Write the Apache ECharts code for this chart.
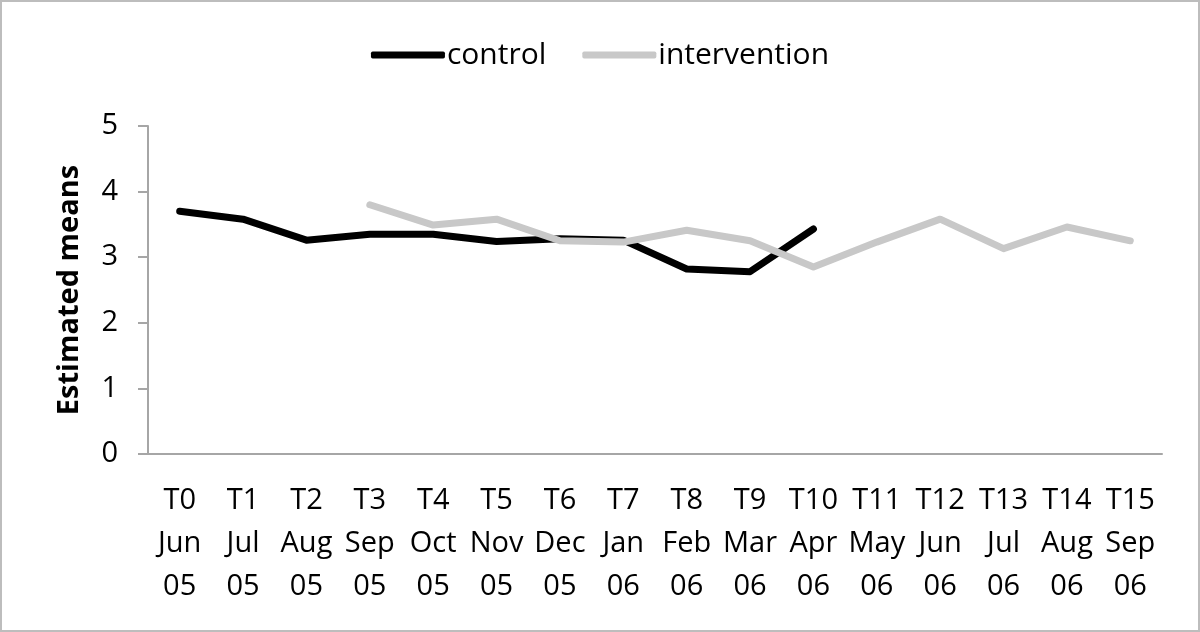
<!DOCTYPE html>
<html>
<head>
<meta charset="utf-8">
<script src="https://cdn.jsdelivr.net/npm/echarts@6/dist/echarts.min.js"></script>
<style>
html,body{margin:0;padding:0;background:#fff;}
#c{width:1200px;height:632px;box-sizing:border-box;border:2px solid #bdbdbd;}
</style>
</head>
<body>
<div id="c"></div>
<script>
const tLabels = ['T0','T1','T2','T3','T4','T5','T6','T7','T8','T9','T10','T11','T12','T13','T14','T15'];
const months = ['Jun','Jul','Aug','Sep','Oct','Nov','Dec','Jan','Feb','Mar','Apr','May','Jun','Jul','Aug','Sep'];
const years = ['05','05','05','05','05','05','05','06','06','06','06','06','06','06','06','06'];
const control = [3.70,3.58,3.26,3.35,3.35,3.24,3.28,3.26,2.82,2.78,3.43,null,null,null,null,null];
const intervention = [null,null,null,3.80,3.49,3.58,3.25,3.23,3.41,3.25,2.85,3.23,3.58,3.13,3.46,3.25];
const yTicks = [0,1,2,3,4,5];

const categories = tLabels.map((t,i)=>t+'\n'+months[i]+'\n'+years[i]);
const FONT = '"Open Sans", Lato, sans-serif';
const chart = echarts.init(document.getElementById('c'));
chart.setOption({
  animation:false,
  textStyle:{fontFamily:FONT},
  legend:{
    top:33, left:'center',
    itemWidth:74, itemHeight:7, itemGap:36,
    icon:'roundRect',
    textStyle:{fontSize:30, color:'#000', fontFamily:FONT, padding:[0,0,0,-3]},
    data:['control','intervention']
  },
  grid:{left:146, right:36, top:124, bottom:176, containLabel:false},
  xAxis:{
    type:'category', data:categories, boundaryGap:true,
    axisLine:{lineStyle:{color:'#a6a6a6', width:2}},
    axisTick:{show:false},
    axisLabel:{color:'#000', fontSize:29, lineHeight:43, margin:25, interval:0, fontFamily:FONT}
  },
  yAxis:{
    type:'value', min:yTicks[0], max:yTicks[yTicks.length-1], interval:1,
    name:'Estimated means', nameLocation:'middle', nameGap:64, nameRotate:90,
    nameTextStyle:{fontSize:29, fontWeight:'bold', color:'#000', fontFamily:FONT},
    axisLine:{show:true, lineStyle:{color:'#a6a6a6', width:2}},
    axisTick:{show:true, inside:false, length:10, lineStyle:{color:'#a6a6a6', width:2}},
    axisLabel:{color:'#000', fontSize:29, margin:30, fontFamily:FONT},
    splitLine:{show:false}
  },
  series:[
    {name:'control', type:'line', data:control, symbol:'none', color:'#000',
     lineStyle:{color:'#000', width:7, cap:'round', join:'round'}},
    {name:'intervention', type:'line', data:intervention, symbol:'none', color:'#c8c8c8',
     lineStyle:{color:'#c8c8c8', width:7, cap:'round', join:'round'}}
  ]
});
</script>
</body>
</html>
